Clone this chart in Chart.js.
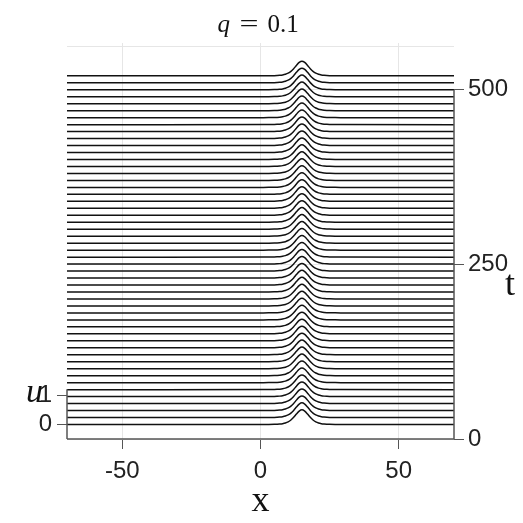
<!DOCTYPE html>
<html lang="en">
<head>
  <meta charset="UTF-8">
  <title>q = 0.1</title>
  <script src="https://cdn.jsdelivr.net/npm/chart.js"></script>
  <style>
    body {
      margin: 0;
      background: #ffffff;
    }

    #wrap {
      width: 523px;
      height: 523px;
    }
  </style>
</head>
<body>
  <div id="wrap">
    <canvas id="chart" width="523" height="523"></canvas>
  </div>

  <script>
    // time levels, one curve each
    const tLevels = [0, 10, 20, 30, 40, 50, 60, 70, 80, 90,
      100, 110, 120, 130, 140, 150, 160, 170, 180, 190,
      200, 210, 220, 230, 240, 250, 260, 270, 280, 290,
      300, 310, 320, 330, 340, 350, 360, 370, 380, 390,
      400, 410, 420, 430, 440, 450, 460, 470, 480, 490, 500];

    // soliton profile u(x) (same at every t)
    const xPoints = [-70, 1, 3, 5, 6, 7, 8, 9, 10, 11, 12, 13, 14, 15,
      16, 17, 18, 19, 20, 21, 22, 23, 24, 25, 27, 29, 70];
    const uPoints = [0, 0.0005, 0.0015, 0.0049, 0.009, 0.0162, 0.0291, 0.0518, 0.0904, 0.1525, 0.2434, 0.3558, 0.4576, 0.5,
      0.4576, 0.3558, 0.2434, 0.1525, 0.0904, 0.0518, 0.0291, 0.0162, 0.009, 0.0049, 0.0015, 0.0005, 0];

    const xTicks = [-50, 0, 50];
    const uTicks = [0, 1];
    const tTicks = [0, 250, 500];

    // waterfall: each curve is lifted by t on the u axis
    const uPerT = 0.0238;
    const uMin = -0.495, uMax = 13.02;
    const tMax = 567;
    const topGrid = 562;

    const axisColor = '#555555';
    const gridColor = '#e6e6e6';
    const tickFont = { family: "'Liberation Sans', Arial, sans-serif", size: 24 };

    const datasets = tLevels.map(t => ({
      label: 't = ' + t,
      data: xPoints.map((x, i) => ({ x: x, y: uPoints[i] + t * uPerT })),
      yAxisID: 'u',
      borderColor: '#111111',
      borderWidth: 1.5,
      pointRadius: 0,
      fill: false,
      cubicInterpolationMode: 'monotone'
    }));

    // spines and text that Chart.js cannot place this way
    const decor = {
      id: 'decor',
      afterDraw(chart) {
        const c = chart.ctx;
        const area = chart.chartArea;
        const sx = chart.scales.x, su = chart.scales.u, st = chart.scales.t;
        c.save();
        c.strokeStyle = axisColor;
        c.lineWidth = 1.5;
        c.beginPath();
        c.moveTo(area.left, area.bottom);
        c.lineTo(area.right, area.bottom);
        c.moveTo(area.left, area.bottom);
        c.lineTo(area.left, su.getPixelForValue(1.2));
        c.moveTo(area.right, area.bottom);
        c.lineTo(area.right, st.getPixelForValue(500));
        c.stroke();

        c.fillStyle = '#111111';
        c.textBaseline = 'alphabetic';
        // title q = 0.1
        const mid = (area.left + area.right) / 2;
        c.textAlign = 'left';
        c.font = "italic 25px 'Liberation Serif', serif";
        c.fillText('q', mid - 43, 32);
        c.font = "25px 'Liberation Serif', serif";
        c.save();
        c.translate(mid - 21, 32);
        c.scale(1.35, 1);
        c.fillText('=', 0, 0);
        c.restore();
        c.fillText('0.1', mid + 7, 32);

        // axis names
        c.font = "36px 'Liberation Serif', serif";
        c.textAlign = 'center';
        c.fillText('x', sx.getPixelForValue(0), 511);
        c.textAlign = 'left';
        c.fillText('t', 505, 295);
        c.font = "italic 34px 'Liberation Serif', serif";
        c.fillText('u', 26, 402);
        c.restore();
      }
    };

    const config = {
      type: 'line',
      data: { datasets: datasets },
      options: {
        responsive: false,
        animation: false,
        layout: { padding: { top: 43, left: 0, right: 0, bottom: 0 } },
        plugins: {
          legend: { display: false },
          title: { display: false },
          tooltip: { enabled: false }
        },
        scales: {
          x: {
            type: 'linear',
            min: -70,
            max: 70,
            afterBuildTicks: s => { s.ticks = xTicks.map(v => ({ value: v })); },
            afterFit: s => { s.height = 84; },
            border: { display: false },
            grid: { color: gridColor, tickColor: axisColor, tickLength: 10 },
            ticks: { font: tickFont, color: '#222222', padding: 8, maxRotation: 0 }
          },
          u: {
            type: 'linear',
            position: 'left',
            min: uMin,
            max: uMax,
            afterBuildTicks: s => { s.ticks = uTicks.map(v => ({ value: v })); },
            afterFit: s => { s.width = 67; },
            border: { display: false },
            grid: { drawOnChartArea: false, tickColor: axisColor, tickLength: 10 },
            ticks: { font: tickFont, color: '#222222', padding: 5 }
          },
          t: {
            type: 'linear',
            position: 'right',
            min: 0,
            max: tMax,
            afterBuildTicks: s => { s.ticks = tTicks.concat([topGrid]).map(v => ({ value: v })); },
            afterFit: s => { s.width = 69; },
            border: { display: false },
            grid: {
              color: gridColor,
              tickColor: ctx => (ctx.tick && ctx.tick.value > 500) ? 'rgba(0,0,0,0)' : axisColor,
              tickLength: 10
            },
            ticks: {
              font: tickFont,
              color: '#222222',
              padding: 4,
              callback: v => (v > 500 ? '' : v)
            }
          }
        }
      },
      plugins: [decor]
    };

    new Chart(document.getElementById('chart').getContext('2d'), config);
  </script>
</body>
</html>
